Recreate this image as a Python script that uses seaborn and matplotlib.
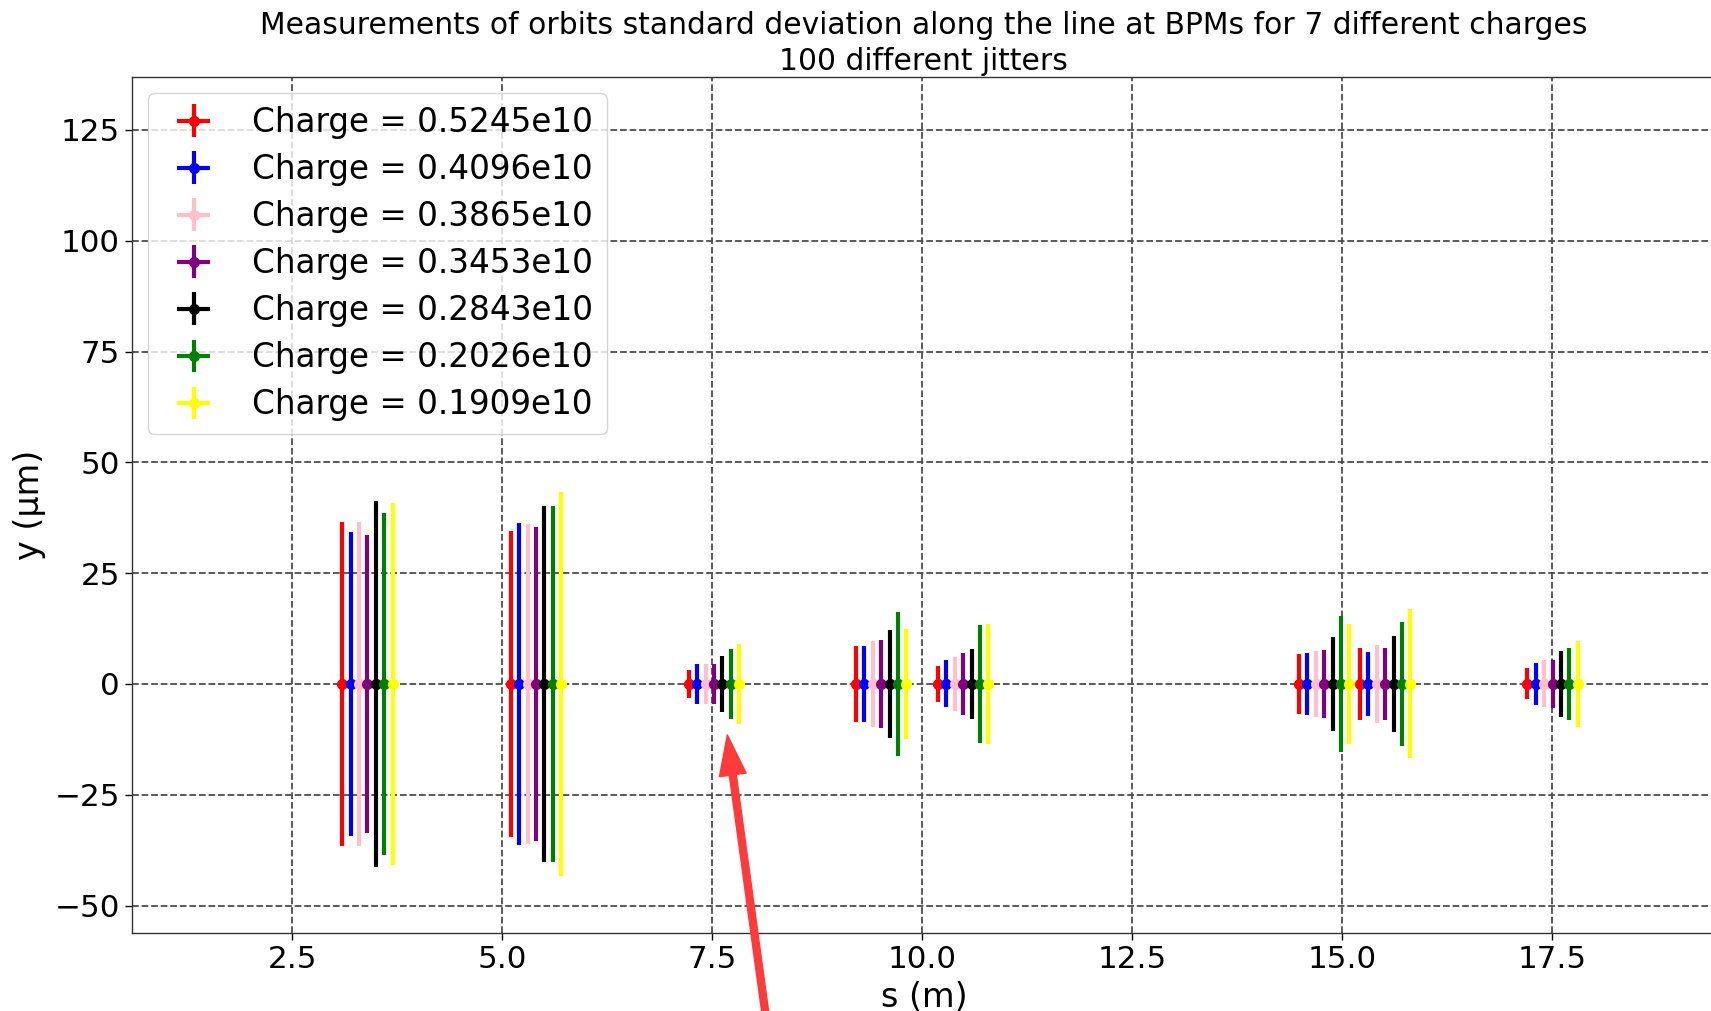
import numpy as np
import pandas as pd
import matplotlib
matplotlib.use("Agg")
import matplotlib.pyplot as plt
import seaborn as sns

# BPM positions along the line (m)
bpm_s = [3.094, 5.100, 7.220, 9.213, 10.190, 14.489, 15.216, 17.208]

# bunch charges and their colours
charges = ["0.5245e10", "0.4096e10", "0.3865e10", "0.3453e10",
           "0.2843e10", "0.2026e10", "0.1909e10"]
colors = ["red", "blue", "pink", "purple", "black", "green", "yellow"]

# mean orbit at each BPM (um)
mean_orbit = [0.0, 0.0, 0.0, 0.0, 0.0, 0.0, 0.0, 0.0]

# orbit standard deviation at each BPM over 100 jitters (um)
std_q5245 = [36.6, 34.5, 3.1, 8.6, 4.1, 6.7, 8.2, 3.5]
std_q4096 = [34.3, 36.3, 4.6, 8.6, 5.3, 6.9, 7.2, 4.8]
std_q3865 = [36.6, 36.1, 4.6, 9.6, 6.1, 7.4, 8.7, 5.3]
std_q3453 = [33.7, 35.5, 4.6, 9.9, 7.0, 7.7, 8.1, 5.4]
std_q2843 = [41.2, 40.1, 6.4, 12.1, 7.9, 10.5, 10.8, 7.4]
std_q2026 = [38.5, 40.1, 7.9, 16.3, 13.4, 15.3, 13.9, 8.1]
std_q1909 = [40.9, 43.4, 9.1, 12.4, 13.5, 13.5, 16.8, 9.8]

std_all = [std_q5245, std_q4096, std_q3865, std_q3453,
           std_q2843, std_q2026, std_q1909]

rows = []
for k, (q, stds) in enumerate(zip(charges, std_all)):
    for s, m, sd in zip(bpm_s, mean_orbit, stds):
        rows.append({"s": s, "charge": q, "idx": k, "mean": m, "std": sd})
df = pd.DataFrame(rows)

sns.set_theme(style="ticks")
plt.rcParams["font.family"] = ["DejaVu Sans"]
plt.rcParams.update({"text.color": "black", "axes.labelcolor": "black",
                     "xtick.color": "black", "ytick.color": "black"})

palette = sns.color_palette(colors)

W, H = 1711, 1011
fig = plt.figure(figsize=(W / 100, H / 100), dpi=100)
left, right, top, bottom = 131.7, 1716.0, 76.7, 933.3
ax = fig.add_axes([left / W, 1 - bottom / H, (right - left) / W, (bottom - top) / H])

dodge = 0.1  # small shift in s so the charges sit side by side
for k, q in enumerate(charges):
    sub = df[df["charge"] == q]
    ax.errorbar(sub["s"] + dodge * k, sub["mean"], yerr=sub["std"], xerr=0,
                fmt="o", color=palette[k], ms=7, elinewidth=3, capsize=0,
                label=f"Charge = {q}", zorder=3)

ax.set_xlim(0.586, 19.455)
ax.set_ylim(-56.25, 137.0)
ax.set_xticks([2.5, 5.0, 7.5, 10.0, 12.5, 15.0, 17.5])
ax.set_yticks([-50, -25, 0, 25, 50, 75, 100, 125])

ax.grid(True, linestyle="--", color="0.3", linewidth=1.3)
ax.tick_params(direction="out", length=5, width=1, labelsize=22.3, colors="black")
for sp in ax.spines.values():
    sp.set_color("0.2")
    sp.set_linewidth(1.0)

ax.set_xlabel("s (m)", fontsize=24, labelpad=5)
ax.set_ylabel("y (\u00b5m)", fontsize=24, labelpad=6)
ax.set_title("Measurements of orbits standard deviation along the line at BPMs "
             "for 7 different charges\n100 different jitters",
             fontsize=21.4, pad=5, linespacing=1.3)

leg = ax.legend(loc="upper left", fontsize=23.5, frameon=True, framealpha=0.8,
                edgecolor="0.8", fancybox=True, handletextpad=0.8,
                labelspacing=0.43, borderaxespad=0.5)

ax.annotate("", xy=(7.68, -11.5), xycoords="data",
            xytext=(767.7 / W, -0.019), textcoords="figure fraction",
            arrowprops=dict(arrowstyle="simple,head_length=1.45,head_width=0.97,tail_width=0.25",
                            mutation_scale=20, color="#fe3a3a",
                            shrinkA=0, shrinkB=0),
            annotation_clip=False, zorder=5)

fig.savefig("out.png", dpi=100)
